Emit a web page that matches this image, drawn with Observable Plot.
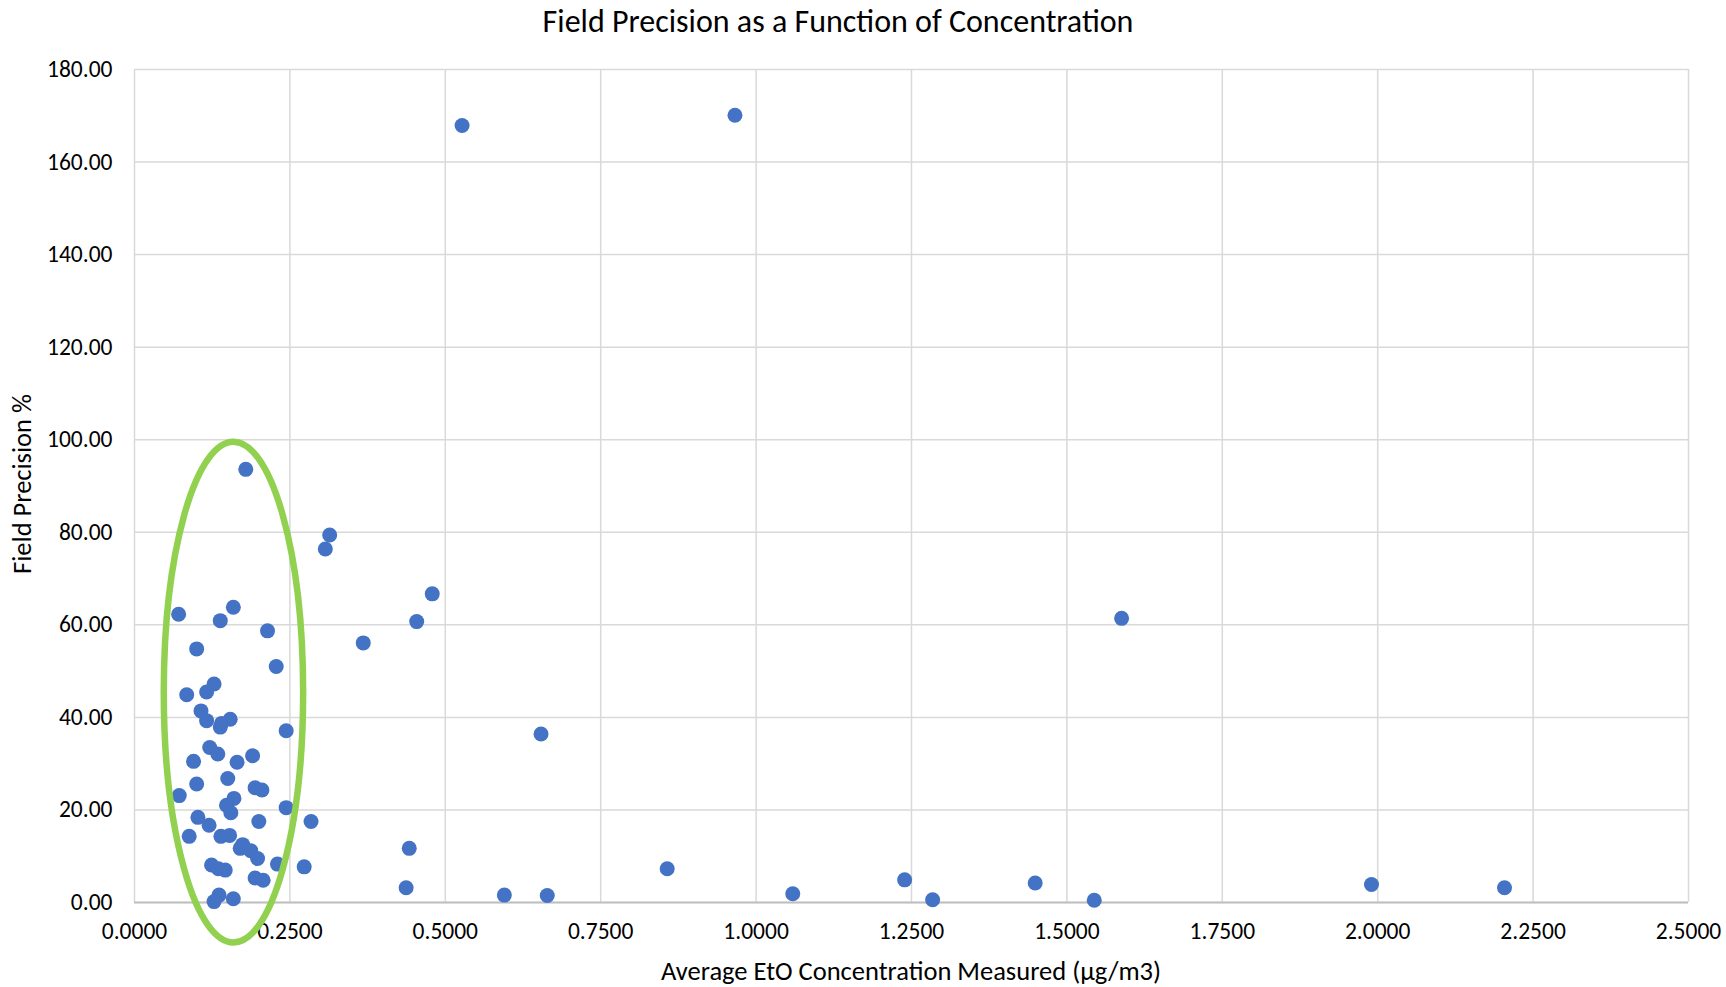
<!DOCTYPE html>
<html>
<head>
<meta charset="utf-8">
<script src="https://cdn.jsdelivr.net/npm/d3@7"></script>
<script src="https://cdn.jsdelivr.net/npm/@observablehq/plot@0.6"></script>
<style>
  html, body { margin: 0; padding: 0; background: #fff; }
  #wrap { position: relative; width: 1726px; height: 987px; overflow: hidden; font-family: Carlito, Calibri, "Open Sans", sans-serif; color: #000; }
  #title { position: absolute; left: 0; width: 1676px; top: 0px; text-align: center; font-size: 32px; line-height: 44px; }
  #xlabel { position: absolute; left: 134px; width: 1554px; top: 953px; text-align: center; font-size: 26.5px; line-height: 36px; }
  #ylabel { position: absolute; left: 22px; top: 484px; transform: translate(-50%, -50%) rotate(-90deg); white-space: nowrap; font-size: 26.5px; line-height: 36px; }
  #chart { position: absolute; left: 0; top: 0; }
</style>
</head>
<body>
<div id="wrap">
  <div id="chart"></div>
  <div id="title">Field Precision as a Function of Concentration</div>
  <div id="xlabel">Average EtO Concentration Measured (µg/m3)</div>
  <div id="ylabel">Field Precision %</div>
</div>
<script>
// Average EtO concentration measured (µg/m3)
const concentration = [
  0.179, 0.314, 0.307, 0.479, 0.071, 0.159, 0.138, 0.454, 0.214, 0.368,
  0.100, 0.228, 0.128, 0.084, 0.116, 0.107, 0.116, 0.154, 0.138, 0.140,
  0.244, 0.654, 0.121, 0.134, 0.095, 0.165, 0.190, 0.150, 0.100, 0.194,
  0.205, 0.072, 0.160, 0.148, 0.155, 0.244, 0.102, 0.120, 0.200, 0.284,
  0.088, 0.139, 0.153, 0.174, 0.170, 0.187, 0.198, 0.230, 0.273, 0.124,
  0.135, 0.146, 0.194, 0.207, 0.136, 0.128, 0.159, 0.442, 0.437, 0.595,
  0.664, 0.857, 1.059, 1.239, 1.284, 1.449, 1.544, 1.990, 2.204, 1.588,
  0.527, 0.966
];
// Field precision %
const precision = [
  93.6, 79.4, 76.4, 66.7, 62.3, 63.8, 60.9, 60.7, 58.7, 56.1,
  54.8, 51.0, 47.2, 44.9, 45.5, 41.4, 39.3, 39.6, 37.9, 38.7,
  37.1, 36.4, 33.5, 32.1, 30.5, 30.3, 31.7, 26.8, 25.6, 24.8,
  24.3, 23.1, 22.5, 21.0, 19.4, 20.5, 18.4, 16.7, 17.5, 17.5,
  14.3, 14.3, 14.5, 12.5, 11.7, 11.2, 9.5, 8.3, 7.7, 8.1,
  7.3, 7.0, 5.3, 4.8, 1.6, 0.2, 0.8, 11.7, 3.2, 1.6,
  1.5, 7.3, 1.9, 4.9, 0.6, 4.2, 0.5, 3.9, 3.2, 61.4,
  167.9, 170.1
];
const xTicks = [0, 0.25, 0.5, 0.75, 1.0, 1.25, 1.5, 1.75, 2.0, 2.25, 2.5];
const yTicks = [0, 20, 40, 60, 80, 100, 120, 140, 160, 180];
// highlight ellipse (data units): center x, center y, radius x, radius y
const highlightCenter = [0.160, 45.35];
const highlightRadius = [0.1121, 54.1];

const points = concentration.map((c, i) => ({c, p: precision[i]}));

const ellipseMark = (index, scales) => {
  const {x, y} = scales;
  const cx = x(highlightCenter[0]);
  const cy = y(highlightCenter[1]);
  const rx = x(highlightCenter[0] + highlightRadius[0]) - cx;
  const ry = cy - y(highlightCenter[1] + highlightRadius[1]);
  const el = d3.create("svg:ellipse")
    .attr("cx", cx).attr("cy", cy).attr("rx", rx).attr("ry", ry)
    .attr("fill", "none").attr("stroke", "#92D050").attr("stroke-width", 6.5);
  return el.node();
};

const chart = Plot.plot({
  width: 1726,
  height: 987,
  marginLeft: 134,
  marginRight: 38,
  marginTop: 69,
  marginBottom: 85,
  style: {fontFamily: 'Carlito, Calibri, "Open Sans", sans-serif', fontSize: "23.5px", color: "#000", background: "transparent", overflow: "visible"},
  x: {domain: [0, 2.5], ticks: xTicks, tickFormat: d => d.toFixed(4), tickSize: 0, tickPadding: 20, label: null},
  y: {domain: [0, 180], ticks: yTicks, tickFormat: d => d.toFixed(2), tickSize: 0, tickPadding: 22, label: null},
  marks: [
    Plot.ruleX(xTicks, {stroke: "#d9d9d9", strokeWidth: 1.5}),
    Plot.ruleY(yTicks, {stroke: "#d9d9d9", strokeWidth: 1.5}),
    Plot.ruleY([0], {stroke: "#bfbfbf", strokeWidth: 2}),
    Plot.dot(points, {x: "c", y: "p", r: 7.5, fill: "#4472C4", stroke: null}),
    ellipseMark
  ]
});
document.getElementById("chart").appendChild(chart);
</script>
</body>
</html>
